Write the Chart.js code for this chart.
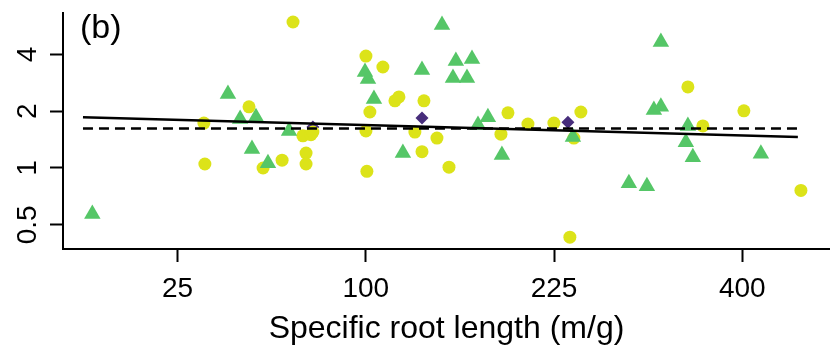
<!DOCTYPE html>
<html>
<head>
<meta charset="utf-8">
<script src="https://cdn.jsdelivr.net/npm/chart.js@4.4.1/dist/chart.umd.min.js"></script>
<style>
  html, body { margin: 0; padding: 0; background: #fff; }
  #wrap { width: 830px; height: 346px; }
</style>
</head>
<body>
<div id="wrap"><canvas id="srl-chart" width="830" height="346"></canvas></div>
<script>
// Panel (b): specific root length (m/g) on a square-root axis, response on a log axis

// green triangles
const triSRL = [7.5, 40.2, 44.4, 50.2, 48.7, 54.8, 63.4, 99.6, 101.2, 104.4, 120.7, 132.1, 144.6, 153.6, 151.7,
                164.4, 161.0, 168.5, 175.4, 185.4, 240.3, 288.6, 305.1, 318.2, 311.6, 318.2, 344.3, 342.3, 349.2, 420.0];
const triY   = [0.57, 2.47, 1.82, 1.86, 1.26, 1.06, 1.57, 3.23, 2.96, 2.32, 1.20, 3.31, 5.73, 3.69, 3.00,
                3.78, 3.00, 1.69, 1.86, 1.17, 1.46, 0.83, 0.80, 4.65, 2.03, 2.11, 1.67, 1.37, 1.14, 1.19];

// yellow circles
const circSRL = [32.5, 32.8, 47.6, 52.9, 60.5, 65.1, 69.4, 73.0, 73.9, 70.8, 70.8, 100.1, 109.3, 102.2, 100.1, 100.6, 116.1,
                 118.4, 133.3, 127.8, 141.4, 132.1, 149.1, 189.8, 184.7, 204.7, 224.9, 246.9, 241.1, 237.8, 344.3, 359.2, 401.7, 464.7];
const circY   = [1.73, 1.05, 2.11, 1.00, 1.10, 5.94, 1.48, 1.50, 1.55, 1.20, 1.05, 3.92, 3.43, 1.98, 1.57, 0.96, 2.27,
                 2.38, 2.27, 1.55, 1.44, 1.22, 1.01, 1.96, 1.51, 1.71, 1.73, 1.98, 1.44, 0.43, 2.69, 1.67, 2.01, 0.76];

// purple diamonds
const diaSRL = [73.9, 132.1, 236.2];
const diaY   = [1.65, 1.84, 1.75];

// fitted lines (end points)
const fitSRL  = [6.2, 461.2];
const solidY  = [1.86, 1.46];
const dashedY = [1.62, 1.62];

// axes
const xTicks = [25, 100, 225, 400];
const yTicks = [0.5, 1, 2, 4];
const xLimits = [3.84, 498.6];
const yLimits = [0.372, 6.63];
const xTitle = 'Specific root length (m/g)';
const panelTag = '(b)';

const toPoints = (xs, ys) => xs.map((v, i) => ({ x: Math.sqrt(v), y: ys[i] }));

// text drawn by hand: R-style rotated y labels, tick labels, title and panel tag
const axisText = {
    id: 'axisText',
    afterDraw(chart) {
        const ctx = chart.ctx;
        const xs = chart.scales.x;
        const ys = chart.scales.y;
        const area = chart.chartArea;
        ctx.save();
        ctx.fillStyle = '#000';
        ctx.textAlign = 'center';
        ctx.textBaseline = 'alphabetic';
        ctx.font = '28px "Liberation Sans", Arial, sans-serif';
        xs.ticks.forEach(t => {
            const v = Math.round(t.value * t.value);
            ctx.fillText(String(v), xs.getPixelForValue(t.value), 297);
        });
        ys.ticks.forEach(t => {
            ctx.save();
            ctx.translate(35.5, ys.getPixelForValue(t.value));
            ctx.rotate(-Math.PI / 2);
            ctx.fillText(String(t.value), 0, 0);
            ctx.restore();
        });
        ctx.font = '32px "Liberation Sans", Arial, sans-serif';
        ctx.fillText(xTitle, (area.left + area.right) / 2, 338);
        ctx.textAlign = 'left';
        ctx.font = '34px "Liberation Sans", Arial, sans-serif';
        ctx.fillText(panelTag, 80, 38);
        ctx.restore();
    }
};

const ctx = document.getElementById('srl-chart').getContext('2d');
new Chart(ctx, {
    type: 'scatter',
    data: {
        datasets: [
            {
                label: 'fit',
                data: toPoints(fitSRL, solidY),
                showLine: true,
                borderColor: '#000',
                borderWidth: 2.5,
                pointRadius: 0,
                order: 0
            },
            {
                label: 'fit (dashed)',
                data: toPoints(fitSRL, dashedY),
                showLine: true,
                borderColor: '#000',
                borderWidth: 2.5,
                borderDash: [10, 6],
                pointRadius: 0,
                order: 0
            },
            {
                label: 'triangles',
                data: toPoints(triSRL, triY),
                pointStyle: 'triangle',
                pointRadius: 9.5,
                backgroundColor: '#55C667',
                borderWidth: 0,
                order: 1
            },
            {
                label: 'circles',
                data: toPoints(circSRL, circY),
                pointStyle: 'circle',
                pointRadius: 6.5,
                backgroundColor: '#DCE319',
                borderWidth: 0,
                order: 2
            },
            {
                label: 'diamonds',
                data: toPoints(diaSRL, diaY),
                pointStyle: 'rectRot',
                pointRadius: 6.5,
                backgroundColor: '#472D7B',
                borderWidth: 0,
                order: 3
            }
        ]
    },
    options: {
        responsive: false,
        animation: false,
        devicePixelRatio: 1,
        layout: { autoPadding: false, padding: { top: 13, right: 0, left: 0, bottom: 0 } },
        plugins: {
            legend: { display: false },
            tooltip: { enabled: false }
        },
        scales: {
            x: {
                type: 'linear',
                min: Math.sqrt(xLimits[0]),
                max: Math.sqrt(xLimits[1]),
                afterBuildTicks: scale => { scale.ticks = xTicks.map(v => ({ value: Math.sqrt(v) })); },
                afterFit: scale => { scale.height = 97; },
                ticks: { display: false },
                grid: {
                    drawOnChartArea: false,
                    drawTicks: true,
                    tickLength: 13,
                    tickWidth: 2,
                    tickColor: '#000',
                    color: '#000'
                },
                border: { display: true, color: '#000', width: 2 }
            },
            y: {
                type: 'logarithmic',
                min: yLimits[0],
                max: yLimits[1],
                afterBuildTicks: scale => { scale.ticks = yTicks.map(v => ({ value: v })); },
                afterFit: scale => { scale.width = 63; },
                ticks: { display: false },
                grid: {
                    drawOnChartArea: false,
                    drawTicks: true,
                    tickLength: 13,
                    tickWidth: 2,
                    tickColor: '#000',
                    color: '#000'
                },
                border: { display: true, color: '#000', width: 2 }
            }
        }
    },
    plugins: [axisText]
});
</script>
</body>
</html>
